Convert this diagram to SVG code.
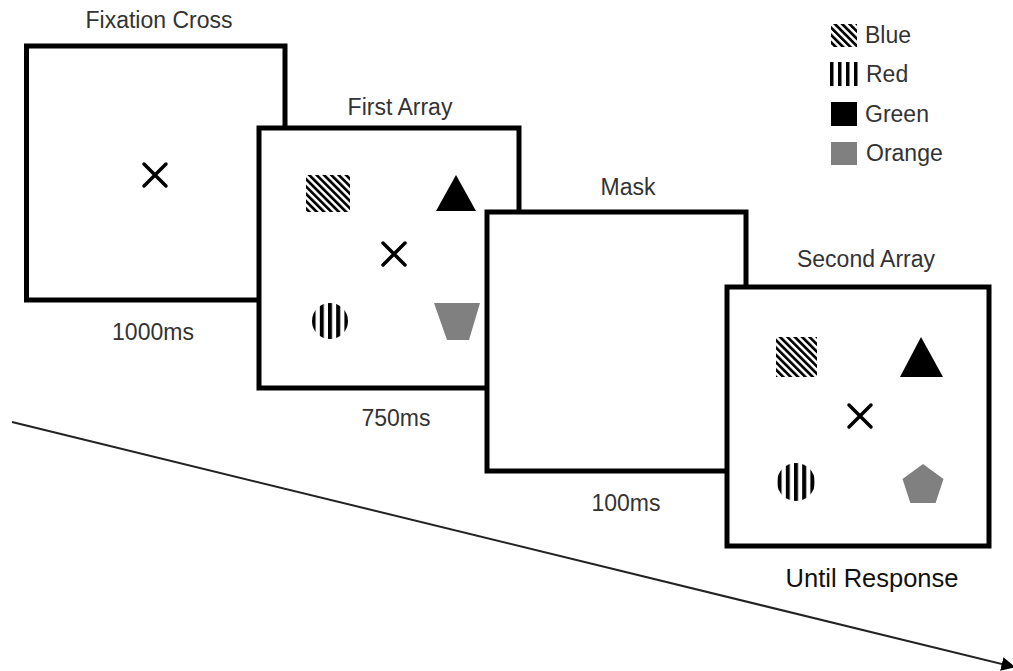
<svg xmlns="http://www.w3.org/2000/svg" width="1013" height="671" viewBox="0 0 1013 671">
<style>
.frame{fill:#fff;stroke:#000;stroke-width:5}
.lbl{font-family:"Liberation Sans",Arial,sans-serif;font-size:23px;fill:#333;text-anchor:middle}
.leg{font-family:"Liberation Sans",Arial,sans-serif;font-size:23px;fill:#333}
.cross{stroke:#000;stroke-width:3.5;stroke-linecap:round;fill:none}
.tri{fill:#000}
.gray{fill:#808080}
</style>
<defs>
<pattern id="hatch" patternUnits="userSpaceOnUse" width="5.2" height="5.2" patternTransform="rotate(-45)">
<rect width="5.2" height="5.2" fill="#fff"/>
<rect width="2.7" height="5.2" fill="#000"/>
</pattern>
<pattern id="vstripe" patternUnits="userSpaceOnUse" x="-2" y="0" width="8.2" height="10">
<rect width="8.2" height="10" fill="#fff"/>
<rect x="0" width="4" height="10" fill="#000"/>
</pattern>
<marker id="arrow" viewBox="0 0 10 10" refX="9" refY="5" markerWidth="7" markerHeight="7" orient="auto">
<path d="M0,0 L10,5 L0,10 z" fill="#000"/>
</marker>
</defs>

<g id="connectors">
<line x1="12" y1="422" x2="1014" y2="667" stroke="#222" stroke-width="2" marker-end="url(#arrow)"/>
</g>

<g id="fixation">
<rect class="frame" x="26.5" y="46" width="258.5" height="254"/>
<path class="cross" d="M144,164 L166,186 M166,164 L144,186"/>
<text class="lbl" x="159" y="28">Fixation Cross</text>
<text class="lbl" x="153" y="340">1000ms</text>
</g>

<g id="first-array">
<rect class="frame" x="259" y="128" width="260" height="260"/>
<rect x="306" y="175" width="44" height="37" fill="url(#hatch)"/>
<polygon class="tri" points="436,211 476,211 456,175"/>
<path class="cross" d="M383,243 L405,265 M405,243 L383,265"/>
<g transform="translate(330,321)"><circle r="18" fill="url(#vstripe)"/></g>
<polygon class="gray" points="434,303 480,303 469,340 447,340"/>
<text class="lbl" x="400" y="115">First Array</text>
<text class="lbl" x="396" y="426">750ms</text>
</g>

<g id="mask">
<rect class="frame" x="487" y="212" width="259" height="259"/>
<text class="lbl" x="628" y="195">Mask</text>
<text class="lbl" x="626" y="511">100ms</text>
</g>

<g id="second-array">
<rect class="frame" x="727" y="287" width="262" height="259"/>
<rect x="776" y="337" width="41" height="40" fill="url(#hatch)"/>
<polygon class="tri" points="900,377 943,377 921,337"/>
<path class="cross" d="M849,405 L871,427 M871,405 L849,427"/>
<g transform="translate(796,482)"><circle r="19" fill="url(#vstripe)"/></g>
<polygon class="gray" points="923,464 943.5,479 935.6,503 910.4,503 902.5,479"/>
<text class="lbl" x="866" y="267">Second Array</text>
<text class="lbl" x="872" y="587" style="font-size:25.5px;fill:#111;font-weight:500">Until Response</text>
</g>

<g id="legend">
<rect x="831" y="24" width="26" height="23" fill="url(#hatch)"/>
<text class="leg" x="865" y="43">Blue</text>
<g fill="#000">
<rect x="830" y="62" width="3.5" height="24"/>
<rect x="838" y="62" width="3.5" height="24"/>
<rect x="846" y="62" width="3.5" height="24"/>
<rect x="854" y="62" width="3.5" height="24"/>
</g>
<text class="leg" x="866" y="82">Red</text>
<rect x="831" y="102" width="26" height="24" fill="#000"/>
<text class="leg" x="865" y="122">Green</text>
<rect x="831" y="142" width="26" height="23" fill="#808080"/>
<text class="leg" x="866" y="161">Orange</text>
</g>
</svg>
